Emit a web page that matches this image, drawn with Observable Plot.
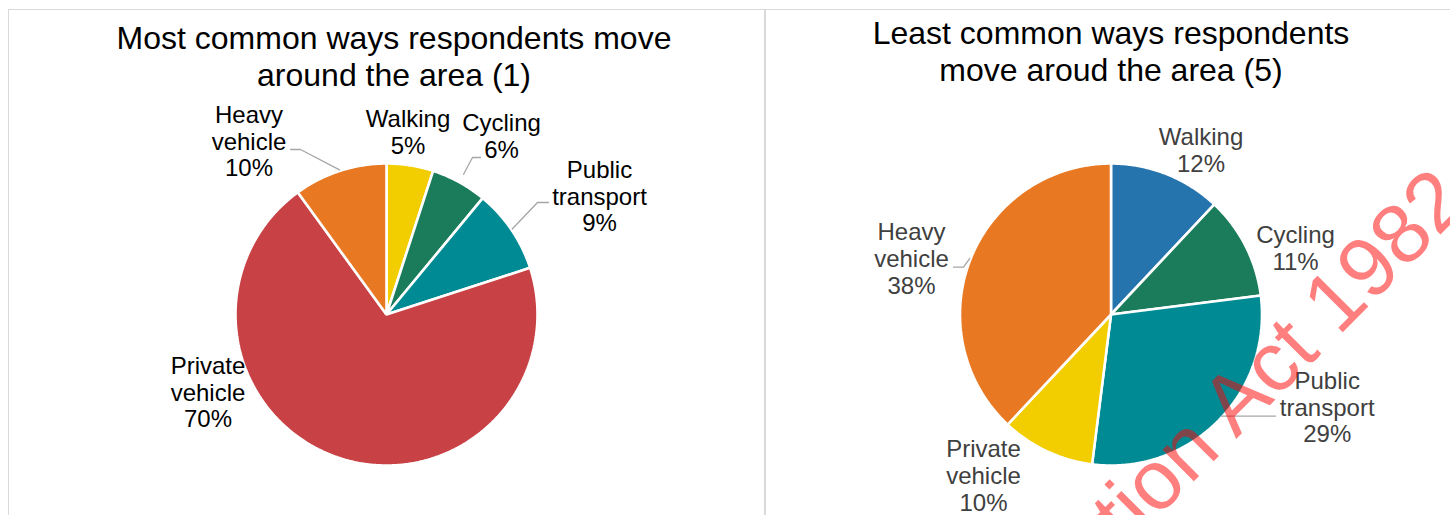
<!DOCTYPE html>
<html><head><meta charset="utf-8">
<script src="https://cdn.jsdelivr.net/npm/d3@7"></script>
<script src="https://cdn.jsdelivr.net/npm/@observablehq/plot@0.6"></script>
<style>
html,body{margin:0;padding:0;background:#fff;width:1450px;height:515px;overflow:hidden;font-family:"Liberation Sans",Arial,sans-serif;}
#wrap{position:relative;width:1450px;height:515px;overflow:hidden;background:#fff;}
.panel{position:absolute;border:1.5px solid #d9d9d9;box-sizing:border-box;}
#chart{position:absolute;left:0;top:0;}
</style></head><body>
<div id="wrap">
  <div class="panel" style="left:7.5px;top:8.5px;width:758px;height:540px"></div>
  <div class="panel" style="left:764px;top:8.5px;width:720px;height:540px"></div>
  <div id="chart"></div>
</div>
<script>
// ---- data ----
const categories = ["Walking", "Cycling", "Public transport", "Private vehicle", "Heavy vehicle"];
const mostCommonValues = [5, 6, 9, 70, 10];      // (1) most common
const leastCommonValues = [12, 11, 29, 10, 38];  // (5) least common
const mostCommonColors = ["#F2CE00", "#1B7C5C", "#008A94", "#C84245", "#E87822"];
const leastCommonColors = ["#2674AE", "#1B7C5C", "#008A94", "#F2CE00", "#E87822"];
const mostCommonTitle = "Most common ways respondents move\naround the area (1)";
const leastCommonTitle = "Least common ways respondents\nmove aroud the area (5)";
const watermarkText = "Information Act 1982";

// ---- layout (positions relative to each pie centre, pixels) ----
const panels = [
  {
    values: mostCommonValues, colors: mostCommonColors, title: mostCommonTitle,
    cx: 386, cy: 314, r: 151, titleDx: 7.5, titleBaseline: 85, labelColor: "#000000",
    labelPos: {
      "Walking": [21.5, -183], "Cycling": [115, -178.6], "Public transport": [213, -118.6],
      "Private vehicle": [-178.5, 77.4], "Heavy vehicle": [-137.5, -173.6]
    },
    leaders: {
      "Heavy vehicle": {gap: 1, pts: [[51.5, 8.6], [41.5, 8.6]]},
      "Cycling": {gap: 9, pts: [[-29, 21.6], [-21, 21.6]]},
      "Public transport": {gap: 1, pts: [[-62, 6.6], [-51, 6.6]]}
    }
  },
  {
    values: leastCommonValues, colors: leastCommonColors, title: leastCommonTitle,
    cx: 1110.5, cy: 314, r: 151, titleDx: 0, titleBaseline: 80, labelColor: "#404040",
    labelPos: {
      "Walking": [90, -164.3], "Cycling": [184.5, -66.3], "Public transport": [216.2, 92.4],
      "Private vehicle": [-127.5, 160.7], "Heavy vehicle": [-199.5, -55.9]
    },
    leaders: {
      "Heavy vehicle": {gap: 1, pts: [[52, 8.6], [42, 8.6]]},
      "Public transport": {horizontal: true, pts: [[-51.7, 9.3]]}
    }
  }
];

const slicePts = [], labels = [], leaderPts = [], titleRows = [];
panels.forEach((p, pi) => {
  const rows = categories.map((c, i) => ({category: c, value: p.values[i], color: p.colors[i]}));
  const arcs = d3.pie().sort(null).value(d => d.value)(rows);
  arcs.forEach((a, i) => {
    const id = pi + "-" + i;
    slicePts.push({id, x: p.cx, y: p.cy, color: a.data.color});
    const n = Math.max(2, Math.ceil((a.endAngle - a.startAngle) / (Math.PI / 360)));
    for (let k = 0; k <= n; k++) {
      const t = a.startAngle + (a.endAngle - a.startAngle) * k / n;
      slicePts.push({id, x: p.cx + p.r * Math.sin(t), y: p.cy - p.r * Math.cos(t), color: a.data.color});
    }
    const c = a.data.category;
    const [dx, dy] = p.labelPos[c];
    const lx = p.cx + dx, ly = p.cy + dy;
    labels.push({x: lx, y: ly, text: c.replace(" ", "\n") + "\n" + a.data.value + "%", color: p.labelColor});
    const L = p.leaders[c];
    if (L) {
      if (L.horizontal) {
        const ey = ly + L.pts[0][1], dyc = ey - p.cy;
        leaderPts.push({id, x: p.cx + Math.sqrt(p.r * p.r - dyc * dyc) - 1, y: ey});
      } else {
        const mid = (a.startAngle + a.endAngle) / 2;
        const rr = p.r + L.gap;
        leaderPts.push({id, x: p.cx + rr * Math.sin(mid), y: p.cy - rr * Math.cos(mid)});
      }
      L.pts.forEach(([ex, ey]) => leaderPts.push({id, x: lx + ex, y: ly + ey}));
    }
  });
  titleRows.push({x: p.cx + p.titleDx, y: p.titleBaseline, text: p.title});
});

const chart = Plot.plot({
  width: 1450, height: 515,
  margin: 0,
  x: {domain: [0, 1450], axis: null},
  y: {domain: [515, 0], axis: null},
  color: {type: "identity"},
  style: {background: "transparent", overflow: "hidden", fontFamily: "'Liberation Sans', Arial, sans-serif"},
  marks: [
    Plot.line(slicePts, {x: "x", y: "y", z: "id", fill: "color", stroke: "#ffffff", strokeWidth: 2.6, curve: "linear-closed", strokeLinejoin: "miter"}),
    Plot.line(leaderPts, {x: "x", y: "y", z: "id", stroke: "#A6A6A6", strokeWidth: 1.3}),
    Plot.text(labels, {x: "x", y: "y", text: "text", fill: "color", fontSize: 24, lineHeight: 1.12, textAnchor: "middle"}),
    Plot.text(titleRows, {x: "x", y: "y", text: "text", fill: "#000000", fontSize: 32, lineHeight: 1.13, lineAnchor: "bottom", textAnchor: "middle"}),
    Plot.text([{t: watermarkText}], {x: () => 1470, y: () => 204, text: "t", rotate: -45, textAnchor: "end", lineAnchor: "bottom", fontSize: 84, fill: "#FF0000", fillOpacity: 0.5})
  ]
});
document.getElementById("chart").appendChild(chart);
</script>
</body></html>
